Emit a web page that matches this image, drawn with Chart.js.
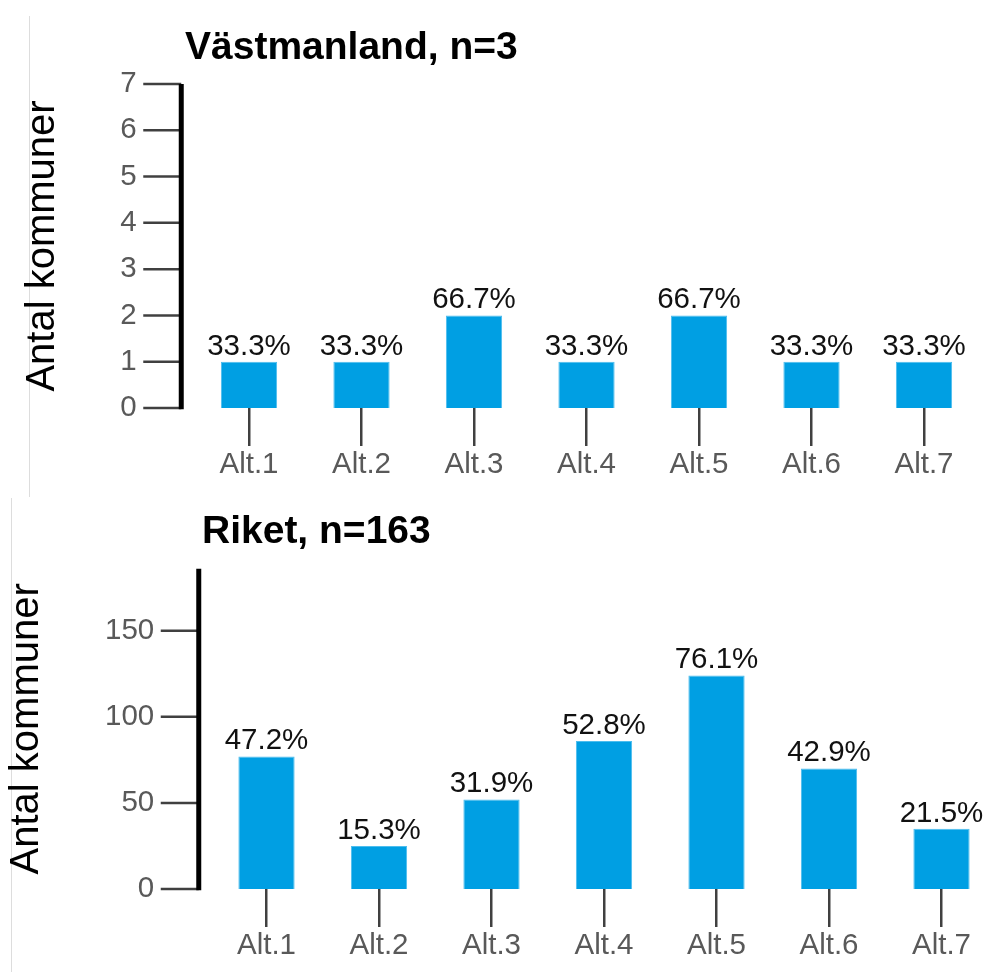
<!DOCTYPE html>
<html>
<head>
<meta charset="utf-8">
<script src="https://cdn.jsdelivr.net/npm/chart.js@4.4.1/dist/chart.umd.min.js"></script>
<style>
    body { margin: 0; width: 985px; height: 972px; overflow: hidden; background: #fff; position: relative;
           font-family: "Liberation Sans", Arial, sans-serif; }
    canvas { position: absolute; }
    .title { position: absolute; font-weight: bold; font-size: 39px; line-height: 39px; color: #000; white-space: nowrap; }
    .edge { position: absolute; width: 1px; background: #dddddd; }
</style>
</head>
<body>
<div class="edge" style="left:29px; top:16px; height:481px"></div>
<div class="edge" style="left:11px; top:498px; height:474px"></div>
<canvas id="topChart" width="985" height="495" style="left:0; top:0"></canvas>
<canvas id="bottomChart" width="1000" height="477" style="left:0; top:495px"></canvas>
<div class="title" style="left:185px; top:26px">Västmanland, n=3</div>
<div class="title" style="left:202px; top:510px">Riket, n=163</div>
<script>
// Data
const categories = ['Alt.1', 'Alt.2', 'Alt.3', 'Alt.4', 'Alt.5', 'Alt.6', 'Alt.7'];

const vastmanlandCounts = [1, 1, 2, 1, 2, 1, 1];
const vastmanlandPercent = ['33.3%', '33.3%', '66.7%', '33.3%', '66.7%', '33.3%', '33.3%'];
const vastmanlandTicks = [0, 1, 2, 3, 4, 5, 6, 7];
const vastmanlandMax = 7;

const riketCounts = [77, 25, 52, 86, 124, 70, 35];
const riketPercent = ['47.2%', '15.3%', '31.9%', '52.8%', '76.1%', '42.9%', '21.5%'];
const riketTicks = [0, 50, 100, 150];
const riketMax = 186;

Chart.defaults.font.family = '"Liberation Sans", Arial, sans-serif';

// black y axis line + grey tick marks, drawn a bit left of the bars
const leftAxis = {
    id: 'leftAxis',
    afterDraw(chart) {
        const { ctx, chartArea } = chart;
        const y = chart.scales.y;
        const x = chartArea.left - 11.5;
        ctx.save();
        ctx.strokeStyle = '#404040';
        ctx.lineWidth = 2.5;
        y.ticks.forEach(t => {
            const py = y.getPixelForValue(t.value);
            ctx.beginPath();
            ctx.moveTo(x - 38, py);
            ctx.lineTo(x, py);
            ctx.stroke();
        });
        ctx.strokeStyle = '#000';
        ctx.lineWidth = 5;
        ctx.beginPath();
        ctx.moveTo(x, chartArea.top);
        ctx.lineTo(x, chartArea.bottom + 1.25);
        ctx.stroke();
        ctx.restore();
    }
};

// percentage text above each bar
const barLabels = {
    id: 'barLabels',
    afterDatasetsDraw(chart, args, opts) {
        const { ctx } = chart;
        ctx.save();
        ctx.font = '29.5px "Liberation Sans", Arial, sans-serif';
        ctx.fillStyle = '#111';
        ctx.textAlign = 'center';
        ctx.textBaseline = 'alphabetic';
        chart.getDatasetMeta(0).data.forEach((bar, i) => {
            ctx.fillText(opts.labels[i], bar.x, bar.y - 7);
        });
        ctx.restore();
    }
};

function makeChart(id, counts, percents, ticks, max, axisWidth, titlePad, padTop, padRight, xHeight) {
    const ctx = document.getElementById(id).getContext('2d');
    return new Chart(ctx, {
        type: 'bar',
        data: {
            labels: categories,
            datasets: [{
                data: counts,
                backgroundColor: '#009FE3',
                borderColor: '#4CBDEE',
                borderWidth: 1,
                barPercentage: 0.5,
                categoryPercentage: 1
            }]
        },
        options: {
            responsive: false,
            animation: false,
            devicePixelRatio: 1,
            layout: { padding: { left: 0, top: padTop, right: padRight, bottom: 0 } },
            plugins: {
                legend: { display: false },
                tooltip: { enabled: false },
                barLabels: { labels: percents }
            },
            scales: {
                x: {
                    offset: true,
                    border: { display: false },
                    grid: {
                        drawOnChartArea: false,
                        drawTicks: true,
                        tickLength: 38,
                        offset: false,
                        color: '#404040',
                        lineWidth: 2.5
                    },
                    ticks: { color: '#595959', font: { size: 29.5 }, padding: 1, maxRotation: 0, autoSkip: false },
                    afterFit: s => { s.height = xHeight; }
                },
                y: {
                    min: 0,
                    max: max,
                    border: { display: false },
                    grid: { display: false, drawTicks: false },
                    afterBuildTicks: s => { s.ticks = ticks.map(v => ({ value: v })); },
                    ticks: { color: '#595959', font: { size: 29.5 }, padding: 56 },
                    title: {
                        display: true,
                        text: 'Antal kommuner',
                        color: '#000',
                        font: { size: 40 },
                        padding: { top: titlePad, bottom: 0 }
                    },
                    afterFit: s => { s.width = axisWidth; }
                }
            }
        },
        plugins: [leftAxis, barLabels]
    });
}

makeChart('topChart', vastmanlandCounts, vastmanlandPercent, vastmanlandTicks, vastmanlandMax,
    192.75, 19, 84, 4.75, 87);
makeChart('bottomChart', riketCounts, riketPercent, riketTicks, riketMax,
    210.25, 3, 70, 2.25, 83);
</script>
</body>
</html>
